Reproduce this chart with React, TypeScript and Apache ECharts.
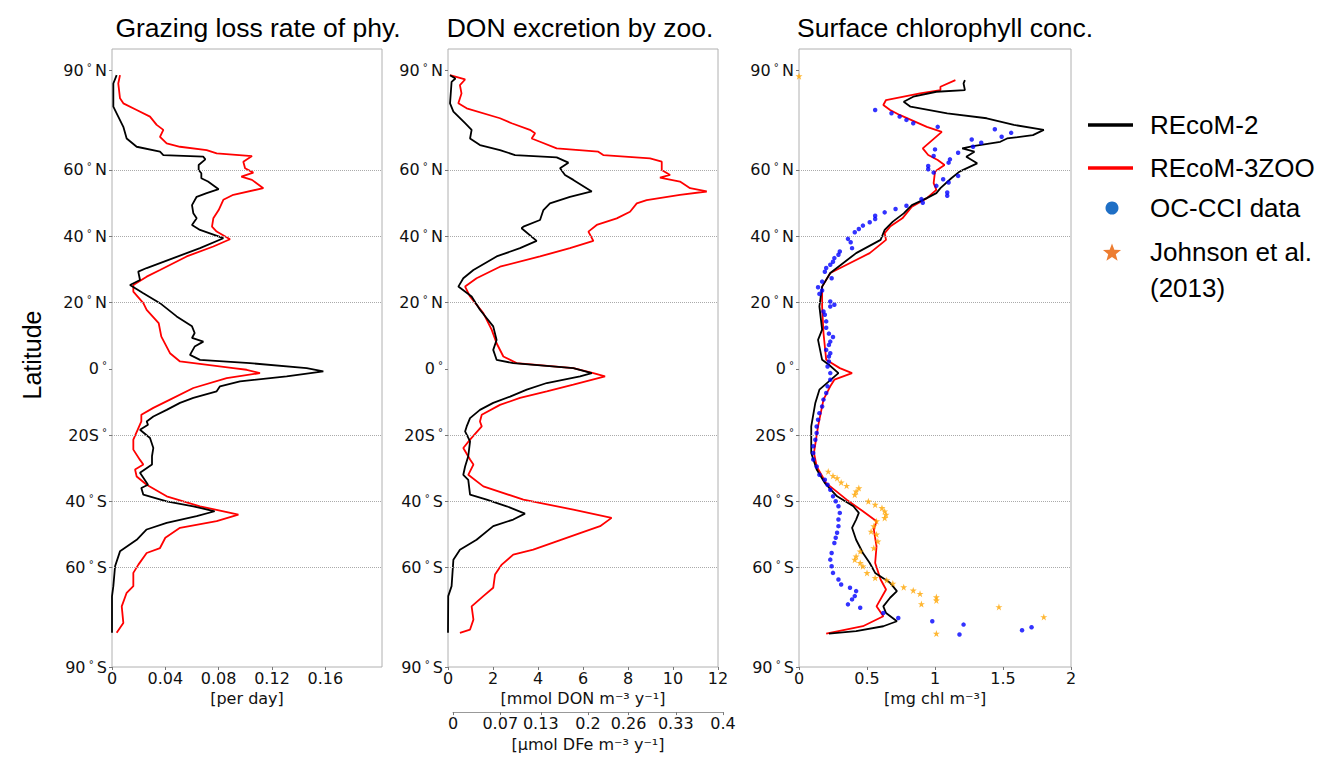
import React, { useEffect, useRef } from "react";
import * as echarts from "echarts";

// ---- data: [latitude, value] ----
const latTicks = [-90, -60, -40, -20, 0, 20, 40, 60, 90];
const latLabels: Record<string, string> = {
  "90": "{n|90}{d| ° }{n|N}",
  "60": "{n|60}{d| ° }{n|N}",
  "40": "{n|40}{d| ° }{n|N}",
  "20": "{n|20}{d| ° }{n|N}",
  "0": "{n|0}{d| °}",
  "-20": "{n|20S}{d| °}",
  "-40": "{n|40}{d| ° }{n|S}",
  "-60": "{n|60}{d| ° }{n|S}",
  "-90": "{n|90}{d| ° }{n|S}",
};
const gridLats = [60, 40, 20, -20, -40, -60];

const titles = ["Grazing loss rate of phy.", "DON excretion by zoo.", "Surface chlorophyll conc."];
const legendNames = ["REcoM-2", "REcoM-3ZOO", "OC-CCI data", "Johnson et al.", "(2013)"];

const grazingX = [0, 0.04, 0.08, 0.12, 0.16];
const donX = [0, 2, 4, 6, 8, 10, 12];
const dfeX = [0, 0.07, 0.13, 0.2, 0.26, 0.33, 0.4];
const chlX = [0, 0.5, 1, 1.5, 2];

const grazingRecom2 = [
  [88.6, 0.0035], [86.1, 0.001], [79.1, 0.001], [76.1, 0.0047], [73.0, 0.0085], [69.5, 0.011], [67.0, 0.0185],
  [65.5, 0.036], [64.5, 0.0385], [64.0, 0.0685], [63.2, 0.07], [61.5, 0.065], [60.0, 0.065], [59.0, 0.067],
  [57.5, 0.067], [56.5, 0.072], [54.2, 0.08], [53.0, 0.071], [51.9, 0.0635], [49.4, 0.06], [46.9, 0.061],
  [45.4, 0.0635], [43.4, 0.06], [41.9, 0.066], [39.4, 0.0835], [36.4, 0.066], [33.4, 0.046], [30.4, 0.026],
  [29.3, 0.0197], [26.8, 0.021], [25.3, 0.0135], [22.8, 0.0235], [19.8, 0.036], [15.8, 0.0485], [12.8, 0.06],
  [10.8, 0.062], [9.3, 0.06], [8.2, 0.0685], [6.7, 0.062], [4.2, 0.0585], [2.7, 0.066], [1.7, 0.1035],
  [0.2, 0.146], [-0.8, 0.1585], [-2.3, 0.131], [-3.8, 0.096], [-5.3, 0.081], [-6.8, 0.0785], [-8.8, 0.061],
  [-10.3, 0.051], [-12.4, 0.041], [-14.4, 0.031], [-15.9, 0.026], [-16.9, 0.027], [-18.4, 0.021], [-20.9, 0.0285],
  [-23.9, 0.031], [-26.4, 0.03], [-28.9, 0.03], [-31.4, 0.021], [-35.0, 0.027], [-36.0, 0.022], [-38.0, 0.0235],
  [-40.0, 0.041], [-41.5, 0.061], [-43.0, 0.077], [-44.5, 0.0635], [-46.5, 0.041], [-48.5, 0.026], [-51.6, 0.0185],
  [-55.1, 0.006], [-59.6, 0.0023], [-65.6, 0.001], [-68.7, 0.0], [-79.7, 0.0],
];
const grazingRecom3 = [
  [88.6, 0.006], [86.1, 0.0047], [81.6, 0.006], [80.1, 0.0085], [78.1, 0.0185], [76.1, 0.0285], [73.6, 0.0335],
  [72.1, 0.0385], [70.0, 0.036], [68.0, 0.041], [67.0, 0.051], [66.0, 0.071], [65.0, 0.0785], [64.2, 0.105],
  [62.5, 0.0985], [60.5, 0.0998], [59.2, 0.106], [58.0, 0.097], [57.0, 0.105], [54.5, 0.1135], [52.5, 0.091],
  [51.0, 0.0835], [47.9, 0.08], [45.4, 0.076], [42.9, 0.075], [41.4, 0.0785], [39.1, 0.0885], [36.9, 0.076],
  [33.9, 0.056], [29.8, 0.036], [27.8, 0.026], [25.3, 0.016], [23.3, 0.016], [19.8, 0.0235], [17.8, 0.026],
  [13.8, 0.035], [9.7, 0.037], [4.7, 0.0435], [2.2, 0.051], [0.2, 0.091], [-0.3, 0.101], [-1.3, 0.111],
  [-2.8, 0.086], [-5.8, 0.061], [-9.3, 0.0435], [-11.8, 0.031], [-13.9, 0.022], [-15.9, 0.022], [-21.4, 0.016],
  [-24.4, 0.016], [-27.5, 0.021], [-28.9, 0.0235], [-30.4, 0.0173], [-32.5, 0.0185], [-35.0, 0.026], [-38.5, 0.041],
  [-41.5, 0.066], [-44.0, 0.0948], [-46.0, 0.0785], [-48.0, 0.051], [-51.0, 0.04], [-54.1, 0.036], [-55.6, 0.026],
  [-59.1, 0.0198], [-61.6, 0.016], [-65.6, 0.016], [-67.6, 0.011], [-71.7, 0.0073], [-76.7, 0.0085], [-79.7, 0.0035],
];

const donRecom2 = [
  [88.6, 0.09], [87.6, 0.33], [86.6, 0.16], [80.1, 0.09], [77.6, 0.24], [74.1, 0.76], [72.1, 1.05], [69.5, 0.98],
  [67.5, 1.42], [66.0, 2.31], [64.5, 2.98], [63.8, 4.83], [62.2, 5.35], [60.5, 4.98], [58.5, 5.2], [57.0, 5.57],
  [53.5, 6.39], [51.9, 5.42], [49.9, 4.53], [47.9, 4.24], [44.9, 4.09], [42.9, 3.35], [42.4, 3.27], [38.6, 3.94],
  [36.4, 3.2], [33.9, 2.16], [29.8, 1.13], [27.3, 0.68], [24.8, 0.46], [21.8, 1.05], [17.8, 1.42], [12.8, 2.01],
  [8.7, 2.16], [5.7, 2.01], [2.7, 2.16], [1.7, 2.9], [0.2, 5.57], [-1.3, 6.39], [-2.3, 5.87], [-4.3, 4.39],
  [-6.3, 3.5], [-8.4, 2.76], [-10.3, 2.01], [-12.4, 1.42], [-14.9, 0.98], [-17.4, 0.83], [-18.9, 0.76],
  [-21.9, 0.98], [-26.4, 0.9], [-29.5, 0.76], [-32.0, 0.68], [-33.5, 0.9], [-38.0, 0.98], [-39.5, 1.72],
  [-41.5, 2.61], [-43.7, 3.42], [-45.5, 2.9], [-47.5, 2.01], [-51.6, 1.27], [-54.6, 0.53], [-57.6, 0.24],
  [-65.6, 0.16], [-68.6, 0.01], [-79.7, 0.0],
];
const donRecom3 = [
  [88.6, 0.09], [87.3, 0.76], [85.6, 0.53], [83.1, 0.6], [80.1, 0.46], [78.6, 0.83], [75.6, 2.31], [74.1, 2.83],
  [72.1, 3.64], [71.1, 3.87], [69.5, 3.72], [68.5, 4.09], [66.5, 4.83], [65.5, 6.68], [64.5, 6.9], [63.5, 8.98],
  [62.5, 9.5], [60.0, 9.5], [58.5, 9.87], [57.7, 9.42], [56.5, 10.31], [54.5, 10.76], [53.5, 11.5], [52.5, 10.31],
  [50.9, 8.83], [49.9, 8.39], [47.4, 8.09], [45.4, 7.5], [43.4, 6.61], [41.4, 6.24], [38.6, 6.46], [36.4, 5.42],
  [33.9, 4.09], [30.8, 2.31], [27.3, 1.27], [24.8, 0.76], [21.8, 0.98], [16.8, 1.57], [11.8, 1.94], [7.7, 2.16],
  [3.7, 2.46], [1.7, 3.05], [0.2, 5.57], [-1.3, 6.46], [-2.3, 6.98], [-4.8, 5.57], [-6.8, 4.39], [-8.8, 3.2],
  [-10.9, 2.31], [-13.9, 1.5], [-15.9, 1.42], [-17.4, 1.5], [-21.4, 0.98], [-23.9, 0.68], [-27.4, 0.98],
  [-28.9, 1.13], [-32.0, 0.9], [-35.5, 1.57], [-39.5, 3.35], [-42.5, 5.57], [-45.0, 7.27], [-47.5, 6.76],
  [-49.6, 5.87], [-52.1, 4.83], [-54.6, 3.79], [-56.1, 2.9], [-59.1, 2.39], [-62.1, 2.09], [-66.1, 2.01],
  [-68.6, 1.57], [-71.7, 1.05], [-75.7, 1.13], [-78.7, 0.98], [-79.7, 0.53],
];

const chlRecom2 = [
  [87.1, 1.22], [86.1, 1.21], [84.1, 1.22], [83.6, 1.01], [82.1, 0.84], [80.6, 0.77], [79.1, 0.82], [77.1, 1.09],
  [75.6, 1.38], [73.6, 1.58], [72.1, 1.8], [70.5, 1.72], [69.5, 1.53], [68.5, 1.48], [67.2, 1.28], [66.5, 1.2],
  [65.5, 1.29], [64.0, 1.23], [62.0, 1.31], [59.5, 1.18], [57.5, 1.12], [54.5, 1.04], [53.0, 1.01], [51.5, 0.94],
  [49.4, 0.83], [46.9, 0.77], [44.4, 0.69], [41.9, 0.63], [38.9, 0.6], [34.9, 0.42], [28.9, 0.23], [24.8, 0.17],
  [18.8, 0.15], [11.8, 0.17], [8.7, 0.14], [2.7, 0.17], [1.2, 0.22], [-1.3, 0.29], [-3.8, 0.22], [-6.3, 0.15],
  [-10.3, 0.12], [-17.4, 0.09], [-25.4, 0.09], [-30.4, 0.13], [-34.5, 0.19], [-38.5, 0.28], [-41.5, 0.4],
  [-43.5, 0.44], [-45.5, 0.42], [-48.0, 0.39], [-51.6, 0.42], [-55.6, 0.47], [-58.6, 0.52], [-61.6, 0.56],
  [-64.6, 0.67], [-67.1, 0.72], [-69.1, 0.67], [-71.7, 0.62], [-73.7, 0.64], [-76.2, 0.72], [-77.7, 0.62],
  [-79.2, 0.42], [-79.9, 0.22],
];
const chlRecom3 = [
  [87.1, 1.15], [85.1, 1.04], [84.1, 1.04], [83.1, 0.89], [81.1, 0.64], [79.6, 0.62], [78.1, 0.67], [76.6, 0.74],
  [73.0, 0.94], [71.5, 1.05], [69.0, 0.98], [66.5, 0.91], [64.5, 0.95], [63.0, 1.02], [61.5, 1.07], [59.5, 1.0],
  [56.0, 0.99], [54.0, 1.01], [51.5, 0.94], [48.9, 0.83], [45.4, 0.76], [42.9, 0.67], [40.9, 0.63], [38.9, 0.64],
  [34.9, 0.52], [28.9, 0.23], [24.8, 0.17], [18.8, 0.17], [10.8, 0.18], [2.7, 0.2], [0.2, 0.3], [-1.3, 0.39],
  [-3.3, 0.26], [-5.3, 0.23], [-9.3, 0.18], [-17.4, 0.14], [-25.4, 0.11], [-29.5, 0.13], [-34.5, 0.2],
  [-39.5, 0.35], [-43.0, 0.47], [-46.0, 0.57], [-48.5, 0.55], [-53.6, 0.57], [-58.6, 0.56], [-63.6, 0.6],
  [-66.6, 0.64], [-71.7, 0.57], [-74.7, 0.62], [-77.7, 0.47], [-79.9, 0.2],
];
const chlOcCci = [
  [78.1, 0.56], [77.1, 0.68], [76.1, 0.74], [75.1, 0.79], [74.1, 0.84], [73.0, 1.02], [72.3, 1.44], [71.2, 1.56],
  [70.0, 1.49], [69.2, 1.27], [68.2, 1.34], [67.0, 1.28], [66.2, 1.0], [65.2, 1.17], [64.2, 0.99], [63.2, 1.11],
  [62.2, 1.1], [61.2, 0.95], [60.2, 0.95], [59.2, 0.99], [58.2, 1.17], [57.2, 1.06], [56.2, 1.1], [55.2, 1.01],
  [53.2, 1.09], [52.2, 1.09], [51.2, 0.9], [50.1, 0.91], [49.2, 0.79], [48.2, 0.71], [47.2, 0.63], [46.2, 0.56],
  [45.2, 0.56], [44.2, 0.52], [43.2, 0.47], [42.2, 0.44], [41.2, 0.41], [39.2, 0.36], [38.2, 0.38], [36.4, 0.39],
  [35.4, 0.3], [34.4, 0.29], [33.4, 0.26], [32.3, 0.25], [31.4, 0.23], [30.4, 0.2], [29.3, 0.19], [27.3, 0.24],
  [26.3, 0.17], [24.6, 0.14], [23.6, 0.17], [22.6, 0.15], [20.3, 0.23], [19.3, 0.26], [18.8, 0.23], [17.3, 0.18],
  [16.3, 0.19], [14.3, 0.2], [12.4, 0.2], [10.6, 0.22], [9.6, 0.25], [8.2, 0.23], [7.2, 0.22], [5.7, 0.2],
  [4.7, 0.23], [3.7, 0.22], [2.2, 0.22], [0.7, 0.21], [-1.3, 0.23], [-3.3, 0.23], [-5.3, 0.21], [-7.3, 0.2],
  [-9.3, 0.18], [-11.4, 0.17], [-13.4, 0.15], [-15.4, 0.14], [-17.4, 0.13], [-19.4, 0.13], [-21.4, 0.12],
  [-23.4, 0.105], [-25.4, 0.105], [-27.4, 0.105], [-29.5, 0.13], [-32.0, 0.15], [-33.5, 0.19], [-35.0, 0.21],
  [-36.5, 0.23], [-38.5, 0.25], [-40.0, 0.27], [-41.5, 0.29], [-43.5, 0.3], [-45.5, 0.29], [-47.5, 0.29],
  [-49.5, 0.28], [-51.0, 0.27], [-52.6, 0.26], [-55.6, 0.24], [-57.6, 0.23], [-59.6, 0.24], [-61.6, 0.25],
  [-63.6, 0.29], [-65.1, 0.31], [-66.1, 0.375], [-67.1, 0.42], [-68.6, 0.41], [-69.6, 0.39], [-71.1, 0.36],
  [-72.1, 0.45], [-73.7, 0.62], [-75.2, 0.73], [-76.2, 0.98], [-77.2, 1.21], [-80.2, 1.18], [-78.9, 1.64],
  [-78.0, 1.71],
];
const chlJohnson = [
  [88.3, 0.0], [-31.0, 0.215], [-32.3, 0.25], [-33.0, 0.28], [-34.3, 0.31], [-35.3, 0.35], [-36.0, 0.44],
  [-37.0, 0.42], [-38.0, 0.41], [-40.0, 0.51], [-41.0, 0.56], [-42.0, 0.61], [-43.0, 0.63], [-44.0, 0.64],
  [-45.0, 0.63], [-46.0, 0.57], [-47.5, 0.55], [-49.1, 0.53], [-50.0, 0.57], [-52.1, 0.58], [-54.1, 0.55],
  [-55.1, 0.45], [-56.6, 0.42], [-57.6, 0.41], [-58.6, 0.45], [-59.6, 0.47], [-61.6, 0.5], [-63.1, 0.56],
  [-63.8, 0.645], [-64.8, 0.69], [-65.9, 0.77], [-66.9, 0.84], [-67.9, 0.89], [-68.9, 1.01], [-69.9, 1.01],
  [-71.0, 0.9], [-71.9, 1.47], [-74.9, 1.8], [-79.9, 1.01],
];

const TICK_FONT = "DejaVu Sans";
const SANS = "Liberation Sans, Arial, sans-serif";

function xy(pairs: number[][]) {
  return pairs.map(([lat, v]) => [v, lat]);
}

function starPoints(cx: number, cy: number, R: number, r: number) {
  const pts: number[][] = [];
  for (let i = 0; i < 10; i++) {
    const a = -Math.PI / 2 + (i * Math.PI) / 5;
    const rad = i % 2 === 0 ? R : r;
    pts.push([cx + rad * Math.cos(a), cy + rad * Math.sin(a)]);
  }
  return pts;
}

export default function App() {
  const ref = useRef<HTMLDivElement>(null);
  useEffect(() => {
    if (!ref.current) return;
    const chart = echarts.init(ref.current, undefined, { renderer: "svg" });

    const gridBox = { top: 49, height: 618 };
    const grids = [
      { left: 112, width: 270, ...gridBox, show: true, borderColor: "#b0b0b0", borderWidth: 1 },
      { left: 448, width: 270, ...gridBox, show: true, borderColor: "#b0b0b0", borderWidth: 1 },
      { left: 799, width: 272, ...gridBox, show: true, borderColor: "#b0b0b0", borderWidth: 1 },
      { left: 453, width: 270, ...gridBox, show: false },
    ];

    const rich = {
      n: { fontFamily: TICK_FONT, fontSize: 16, color: "#111" },
      d: { fontFamily: TICK_FONT, fontSize: 10, color: "#111", verticalAlign: "top", padding: [0, 0, 6, 0] },
    };

    const yAxes = [0, 1, 2, 3].map((gi) => ({
      type: "value",
      gridIndex: gi,
      min: -90,
      max: 96.5,
      show: gi !== 3,
      axisLine: { show: false },
      splitLine: { show: false },
      axisTick: { show: true, customValues: latTicks, length: 3, lineStyle: { color: "#777" } },
      axisLabel: {
        customValues: latTicks,
        margin: 5,
        formatter: (v: number) => latLabels[String(Math.round(v))] || "",
        rich,
      },
    }));

    const xBase = (gi: number, min: number, max: number, ticks: number[], name: string) => ({
      type: "value",
      gridIndex: gi,
      min,
      max,
      axisLine: { show: false, onZero: false },
      splitLine: { show: false },
      axisTick: { show: true, customValues: ticks, length: 3, lineStyle: { color: "#777" } },
      axisLabel: {
        customValues: ticks,
        margin: 3,
        fontFamily: TICK_FONT,
        fontSize: 16,
        color: "#111",
        formatter: (v: number) => String(v),
      },
      name,
      nameLocation: "middle",
      nameGap: 20,
      nameTextStyle: { fontFamily: TICK_FONT, fontSize: 16, color: "#111" },
    });

    const xAxes: any[] = [
      xBase(0, 0, 0.2025, grazingX, "[per day]"),
      xBase(1, 0, 12, donX, "[mmol DON m⁻³ y⁻¹]"),
      xBase(2, 0, 2, chlX, "[mg chl m⁻³]"),
      {
        ...xBase(3, 0, 0.4, dfeX, "[μmol DFe m⁻³ y⁻¹]"),
        offset: 48,
        nameGap: 22,
        axisLine: { show: true, onZero: false, lineStyle: { color: "#999", width: 1 } },
      },
    ];

    const gridMark = {
      silent: true,
      symbol: "none",
      label: { show: false },
      lineStyle: { type: "dotted", color: "#aaaaaa", width: 1 },
      data: gridLats.map((l) => ({ yAxis: l })),
    };

    const lineSeries = (data: number[][], gi: number, color: string, withMark: boolean) => ({
      type: "line",
      xAxisIndex: gi,
      yAxisIndex: gi,
      data: xy(data),
      showSymbol: false,
      symbol: "none",
      lineStyle: { color, width: 1.8 },
      z: color === "red" ? 3 : 4,
      ...(withMark ? { markLine: gridMark } : {}),
    });

    const series: any[] = [
      lineSeries(grazingRecom2, 0, "#000000", true),
      lineSeries(grazingRecom3, 0, "red", false),
      lineSeries(donRecom2, 1, "#000000", true),
      lineSeries(donRecom3, 1, "red", false),
      lineSeries(chlRecom2, 2, "#000000", true),
      lineSeries(chlRecom3, 2, "red", false),
      {
        type: "scatter",
        xAxisIndex: 2,
        yAxisIndex: 2,
        data: xy(chlOcCci),
        symbol: "circle",
        symbolSize: 4.5,
        itemStyle: { color: "#0000ff" },
        z: 5,
      },
      {
        type: "scatter",
        xAxisIndex: 2,
        yAxisIndex: 2,
        data: xy(chlJohnson),
        symbol: "path://M50,0 L61.8,35.3 L98.9,35.3 L68.9,57.2 L80.3,92.6 L50,70.7 L19.7,92.6 L31.1,57.2 L1.1,35.3 L38.2,35.3 Z",
        symbolSize: 7,
        itemStyle: { color: "#ffa500" },
        z: 5,
      },
      { type: "scatter", xAxisIndex: 3, yAxisIndex: 3, data: [] },
    ];

    const titleCenters = [258, 580, 945];
    const graphic: any[] = [
      ...titles.map((t, i) => ({
        type: "text",
        x: titleCenters[i],
        y: 28,
        style: {
          text: t,
          fontFamily: SANS,
          fontSize: 26.5,
          fill: "#000",
          align: "center",
          verticalAlign: "middle",
        },
      })),
      {
        type: "text",
        x: 32,
        y: 355,
        rotation: Math.PI / 2,
        style: { text: "Latitude", fontFamily: SANS, fontSize: 25, fill: "#000", align: "center", verticalAlign: "middle" },
      },
      // legend
      { type: "line", shape: { x1: 1088, y1: 125, x2: 1133, y2: 125 }, style: { stroke: "#000", lineWidth: 3.5 } },
      { type: "line", shape: { x1: 1088, y1: 168, x2: 1133, y2: 168 }, style: { stroke: "#ff0000", lineWidth: 3.5 } },
      { type: "circle", shape: { cx: 1112, cy: 208, r: 6.5 }, style: { fill: "#1f6fc5" } },
      { type: "polygon", shape: { points: starPoints(1112, 253, 9.5, 4) }, style: { fill: "#ed7d31" } },
      ...[125, 168, 208, 252, 288].map((y, i) => ({
        type: "text",
        x: 1150,
        y,
        style: {
          text: legendNames[i],
          fontFamily: SANS,
          fontSize: 26,
          fill: "#000",
          align: "left",
          verticalAlign: "middle",
        },
      })),
    ];

    chart.setOption({
      animation: false,
      backgroundColor: "#ffffff",
      grid: grids,
      xAxis: xAxes,
      yAxis: yAxes,
      series,
      graphic,
    });
    return () => chart.dispose();
  }, []);

  return (
    <div
      ref={ref}
      style={{ position: "fixed", left: 0, top: 0, width: 1332, height: 757, background: "#fff" }}
    />
  );
}
